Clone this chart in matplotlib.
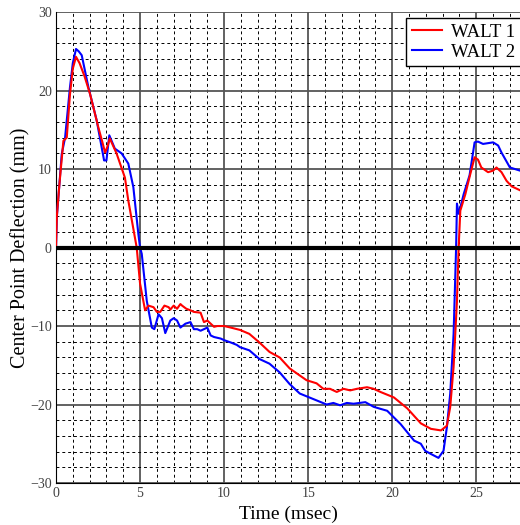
import numpy as np
import matplotlib.pyplot as plt
from matplotlib.ticker import MultipleLocator

# WALT 1 (red)
t1 = [0.0, 0.05, 0.2, 0.44, 0.64, 0.83, 1.0, 1.19, 1.4, 1.7, 2.02, 2.52, 2.75, 2.92, 3.05, 3.2,
      3.6, 4.1, 4.3, 4.8, 5.0, 5.3, 5.5, 5.8, 6.0, 6.2, 6.45, 6.7, 6.8, 7.0, 7.2, 7.4, 7.5,
      7.75, 8.0, 8.2, 8.6, 8.8, 9.0, 9.4, 9.6, 10.0, 10.4, 10.95, 11.5, 12.1, 12.7, 13.3,
      13.9, 14.9, 15.5, 15.9, 16.3, 16.7, 17.1, 17.5, 17.9, 18.5, 18.9, 19.3, 20.1, 20.9,
      21.7, 22.3, 22.9, 23.25, 23.45, 23.65, 23.85, 23.95, 24.05, 24.35, 24.6, 24.9,
      25.1, 25.3, 25.7, 26.0, 26.2, 26.5, 26.8, 27.1, 27.6]
y1 = [0.0, 4.0, 8.0, 13.6, 14.0, 19.5, 22.8, 24.3, 23.5, 21.8, 19.6, 15.3, 13.5, 12.1, 12.8, 13.9,
      12.0, 8.9, 6.0, 0.0, -4.6, -8.0, -7.4, -7.6, -8.2, -8.2, -7.4, -7.6, -7.9, -7.4, -7.8,
      -7.2, -7.4, -7.8, -8.0, -8.2, -8.3, -9.5, -9.3, -10.1, -10.0, -10.0, -10.2, -10.5,
      -11.0, -12.1, -13.3, -14.0, -15.4, -16.9, -17.3, -18.0, -18.0, -18.4, -18.0, -18.2,
      -18.0, -17.8, -18.0, -18.4, -19.1, -20.5, -22.4, -23.1, -23.3, -22.7, -20.3, -15.2,
      -6.8, 0.0, 4.7, 6.8, 9.0, 11.5, 11.2, 10.2, 9.6, 9.8, 10.2, 9.6, 8.5, 7.8, 7.3]

# WALT 2 (blue)
t2 = [0.0, 0.05, 0.2, 0.34, 0.54, 0.83, 1.0, 1.19, 1.35, 1.53, 1.93, 2.42, 2.86, 3.0, 3.17,
      3.5, 3.9, 4.3, 4.6, 4.9, 5.0, 5.1, 5.4, 5.7, 5.85, 6.1, 6.3, 6.5, 6.8, 7.0, 7.2, 7.4,
      7.7, 8.0, 8.2, 8.4, 8.6, 9.0, 9.2, 9.4, 9.8, 10.0, 10.4, 10.75, 10.95, 11.5, 12.1,
      12.7, 13.3, 13.9, 14.5, 15.3, 16.1, 16.5, 16.9, 17.3, 17.7, 18.4, 18.9, 19.7, 20.5,
      21.3, 21.7, 21.96, 22.3, 22.75, 23.05, 23.25, 23.45, 23.65, 23.8, 23.85, 23.95,
      24.05, 24.25, 24.6, 24.9, 25.1, 25.4, 26.0, 26.3, 26.5, 27.0, 27.6]
y2 = [0.0, 3.9, 8.0, 11.9, 14.0, 20.4, 23.5, 25.3, 25.0, 24.5, 20.4, 16.2, 11.1, 11.1, 14.3,
      12.6, 12.0, 10.7, 7.7, 1.7, 0.0, -0.8, -6.8, -10.2, -10.4, -8.5, -9.0, -10.9, -9.3,
      -9.0, -9.3, -10.2, -9.7, -9.5, -10.4, -10.4, -10.6, -10.2, -11.2, -11.4, -11.6,
      -11.8, -12.1, -12.4, -12.7, -13.1, -14.2, -14.8, -15.9, -17.4, -18.6, -19.3, -20.0,
      -19.8, -20.1, -19.8, -19.9, -19.7, -20.3, -20.8, -22.5, -24.6, -25.0, -25.9, -26.3,
      -26.8, -25.9, -22.9, -18.6, -11.0, 0.0, 5.6, 4.3, 5.1, 6.8, 9.2, 13.4, 13.5, 13.2,
      13.4, 13.0, 12.1, 10.2, 9.8]

plt.rcParams['font.family'] = ['Liberation Serif', 'DejaVu Serif']

fig = plt.figure(figsize=(5.2, 5.25), dpi=100)
ax = fig.add_axes([0.1077, 0.08, 0.8923, 0.897])

ax.plot(t1, y1, color='red', lw=1.5, label='WALT 1', zorder=4)
ax.plot(t2, y2, color='blue', lw=1.5, label='WALT 2', zorder=3)
ax.axhline(0, color='black', lw=3, zorder=5)

ax.set_xlim(0, 27.6)
ax.set_ylim(-30, 30)
ax.xaxis.set_major_locator(MultipleLocator(5))
ax.xaxis.set_minor_locator(MultipleLocator(1))
ax.yaxis.set_major_locator(MultipleLocator(10))
ax.yaxis.set_minor_locator(MultipleLocator(2))
ax.grid(which='major', color='#555555', lw=1.3, ls='-')
ax.grid(which='minor', color='black', lw=0.7, ls=(0, (3, 3)))
ax.set_axisbelow(True)

ax.spines['top'].set_visible(False)
ax.spines['right'].set_visible(False)
ax.tick_params(which='both', length=0, labelsize=10, colors='#404040', pad=3)

ax.set_xlabel('Time (msec)', fontsize=14, labelpad=4)
ax.set_ylabel('Center Point Deflection (mm)', fontsize=14.5, labelpad=0)

leg = ax.legend(loc='upper right', bbox_to_anchor=(521 / 520, 1 - 18 / 525),
                bbox_transform=fig.transFigure, fontsize=13.5, fancybox=False,
                framealpha=1, edgecolor='black', handlelength=1.6, handletextpad=0.5,
                borderpad=0.3, labelspacing=0.15, borderaxespad=0)
leg.get_frame().set_linewidth(1.0)

fig.savefig('out.png', dpi=100)
